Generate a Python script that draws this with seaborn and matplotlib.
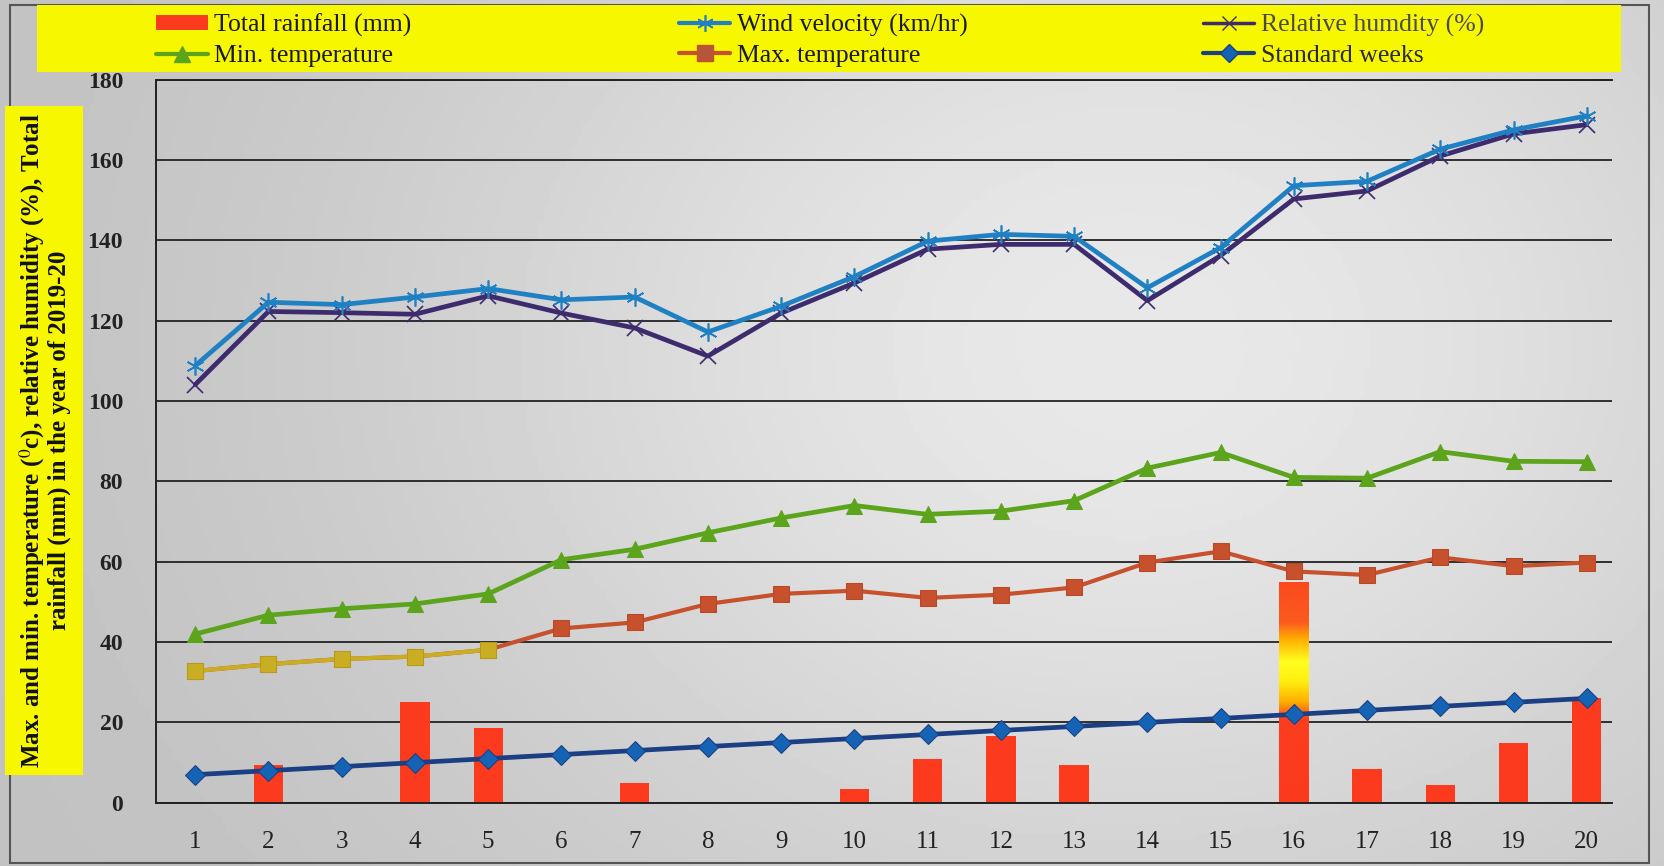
import numpy as np
import pandas as pd
import matplotlib
matplotlib.use("Agg")
import matplotlib.pyplot as plt
import seaborn as sns
from matplotlib.lines import Line2D
from matplotlib.patches import Patch, Rectangle
from matplotlib.colors import LinearSegmentedColormap

# Weekly weather record, 2019-20 (series plotted as stacked cumulative values)
weeks = list(range(1, 21))
total_rainfall = [0, 9.5, 0, 25, 18.5, 0, 5, 0, 0, 3.5, 11, 16.5, 9.5, 0, 0, 55, 8.5, 4.5, 15, 26]
wind_velocity = [108.8, 124.6, 124.0, 125.9, 128.0, 125.2, 125.9, 117.2, 123.6, 131.0,
                 139.8, 141.5, 141.0, 128.2, 138.2, 153.6, 154.7, 162.7, 167.5, 171.0]
relative_humidity = [104.1, 122.3, 122.0, 121.6, 126.2, 121.9, 118.2, 111.2, 121.9, 129.4,
                     137.8, 139.0, 139.0, 125.0, 136.2, 150.3, 152.3, 161.0, 166.5, 168.8]
min_temperature = [42.0, 46.7, 48.3, 49.5, 52.0, 60.5, 63.1, 67.2, 70.9, 74.0,
                   71.8, 72.6, 75.2, 83.3, 87.2, 81.0, 80.8, 87.4, 85.0, 84.9]
max_temperature = [32.8, 34.5, 35.8, 36.4, 38.1, 43.4, 44.9, 49.5, 52.0, 52.8,
                   51.0, 51.8, 53.6, 59.8, 62.6, 57.6, 56.7, 61.1, 58.9, 59.8]
standard_weeks = [7, 8, 9, 10, 11, 12, 13, 14, 15, 16, 17, 18, 19, 20, 21, 22, 23, 24, 25, 26]

y_ticks = [0, 20, 40, 60, 80, 100, 120, 140, 160, 180]

df = pd.DataFrame({
    "week": weeks,
    "rain": total_rainfall,
    "wind": wind_velocity,
    "rh": relative_humidity,
    "tmin": min_temperature,
    "tmax": max_temperature,
    "std": standard_weeks,
})

sns.set_theme(style="white")
plt.rcParams["font.family"] = ["Liberation Serif", "DejaVu Serif"]
plt.rcParams["mathtext.fontset"] = "stix"

c_rain = "#fb3a1e"
c_wind = "#1f80c4"
c_rh = "#3e2b6e"
c_tmin = "#5ba41c"
c_tmax = "#c6512c"
c_tmax_early = "#c9ad22"
c_std_line = "#1b3f82"
c_std_mark = "#1463b4"
c_yellow = "#f7f700"

fig = plt.figure(figsize=(16.64, 8.66), dpi=100)
fig.patch.set_facecolor("#c6c6c6")

# soft paper shading behind everything
bg = fig.add_axes([0, 0, 1, 1], zorder=-10)
gx, gy = np.meshgrid(np.linspace(0, 1, 300), np.linspace(0, 1, 160))
shade = 0.75 + 0.16 * np.exp(-(((gx - 0.68) / 0.45) ** 2 + ((gy - 0.6) / 0.7) ** 2))
bg.imshow(shade, cmap="gray", vmin=0, vmax=1, extent=[0, 1, 0, 1], aspect="auto", origin="lower")
bg.set_xlim(0, 1)
bg.set_ylim(0, 1)
bg.set_axis_off()
bg.add_patch(Rectangle((0.006, 0.004), 0.985, 0.99, transform=bg.transAxes,
                       fill=False, edgecolor="#555555", lw=1.5))
# yellow legend strip and y-title strip
bg.add_patch(Rectangle((0.022, 0.917), 0.952, 0.077, transform=bg.transAxes,
                       facecolor=c_yellow, edgecolor="none"))
bg.add_patch(Rectangle((0.003, 0.105), 0.047, 0.773, transform=bg.transAxes,
                       facecolor=c_yellow, edgecolor="none"))

ax = fig.add_axes([0.094, 0.073, 0.875, 0.835])
ax.set_facecolor("none")

sns.barplot(data=df, x="week", y="rain", native_scale=True, width=0.4,
            color=c_rain, saturation=1, edgecolor="none", linewidth=0, ax=ax, zorder=2)

# colour-graded fill on the tallest rainfall bar
grad_cmap = LinearSegmentedColormap.from_list(
    "rainfill",
    [(0.0, "#fb3a1e"), (0.38, "#fb3e1e"), (0.46, "#ffb000"), (0.55, "#ffee10"),
     (0.64, "#ffff20"), (0.74, "#ffb000"), (0.82, "#fb5a1e"), (1.0, "#fb4a1e")])
tallest = max(ax.patches, key=lambda p: p.get_height())
x0, w, h = tallest.get_x(), tallest.get_width(), tallest.get_height()
im = ax.imshow(np.linspace(0, 1, 256).reshape(-1, 1), cmap=grad_cmap, origin="lower",
               extent=[x0, x0 + w, 0, h], aspect="auto", zorder=2.1)
im.set_clip_path(tallest)

sns.lineplot(data=df, x="week", y="wind", color=c_wind, lw=3.4, marker=(6, 2, 0),
             markersize=13, markeredgecolor=c_wind, markeredgewidth=1.2, ax=ax, zorder=4)
sns.lineplot(data=df, x="week", y="rh", color=c_rh, lw=3.4, marker="x",
             markersize=11, markeredgecolor=c_rh, markeredgewidth=1.2, ax=ax, zorder=3)
sns.lineplot(data=df, x="week", y="tmin", color=c_tmin, lw=3.4, marker="^",
             markersize=11, markeredgecolor=c_tmin, ax=ax, zorder=3)
sns.lineplot(data=df, x="week", y="tmax", color=c_tmax, lw=3, marker="s",
             markersize=12, markeredgecolor="#b8482a", ax=ax, zorder=3)
sns.lineplot(data=df.iloc[:5], x="week", y="tmax", color=c_tmax_early, lw=3, marker="s",
             markersize=12, markeredgecolor="#b89a1a", ax=ax, zorder=3)
sns.lineplot(data=df, x="week", y="std", color=c_std_line, lw=3.4, marker="D",
             markersize=10, markerfacecolor=c_std_mark, markeredgecolor=c_std_line, ax=ax, zorder=5)

ax.set_xlim(0.47, 20.35)
ax.set_ylim(0, 180)
ax.set_yticks(y_ticks)
ax.set_yticklabels([str(t) for t in y_ticks], fontsize=17, fontweight="bold", color="#222222")
ax.set_xticks(weeks)
ax.set_xticklabels([str(wk) for wk in weeks], fontsize=18, color="#222222")
ax.tick_params(axis="both", length=0)
ax.tick_params(axis="x", pad=20)
ax.tick_params(axis="y", pad=24)
ax.yaxis.grid(True, color="#222222", lw=1.3)
ax.set_axisbelow(True)
ax.set_xlabel("")
ax.set_ylabel("")
ax.spines["right"].set_visible(False)
for side in ["left", "top", "bottom"]:
    ax.spines[side].set_color("#222222")
    ax.spines[side].set_linewidth(1.4)

# Y-axis title
fig.text(0.0265, 0.4915,
         "Max. and min. temperature ($^{0}$c), relative humidity (%), Total\n"
         "rainfall (mm) in the year of 2019-20",
         rotation=90, ha="center", va="center", fontsize=18, fontweight="bold",
         linespacing=1.0, color="#111111")

handles = [
    Patch(facecolor=c_rain, edgecolor="none"),
    Line2D([], [], color=c_tmin, lw=3, marker="^", markersize=11),
    Line2D([], [], color=c_wind, lw=3, marker=(6, 2, 0), markersize=12, markeredgewidth=1.2),
    Line2D([], [], color=c_tmax, lw=3, marker="s", markersize=11, markerfacecolor="#b5553a"),
    Line2D([], [], color=c_rh, lw=2.5, marker="x", markersize=10),
    Line2D([], [], color=c_std_line, lw=3, marker="D", markersize=9, markerfacecolor=c_std_mark),
]
labels = ["Total rainfall (mm)", "Min. temperature", "Wind velocity (km/hr)",
          "Max. temperature", "Relative humdity (%)", "Standard weeks"]
label_colors = ["#1a1a1a", "#1a1a1a", "#1a1a1a", "#1a1a1a", "#4a4a4a", "#2a2a2a"]

col_x = [0.094, 0.408, 0.723]
for i, x in enumerate(col_x):
    leg = fig.legend(handles[2 * i:2 * i + 2], labels[2 * i:2 * i + 2], loc="upper left",
                     bbox_to_anchor=(x, 0.984), frameon=False, fontsize=18.5,
                     handlelength=2.0, handleheight=0.5, handletextpad=0.25,
                     labelspacing=0.3, borderpad=0, borderaxespad=0)
    for t, c in zip(leg.get_texts(), label_colors[2 * i:2 * i + 2]):
        t.set_color(c)

fig.savefig("out.png", dpi=100, facecolor=fig.get_facecolor())
